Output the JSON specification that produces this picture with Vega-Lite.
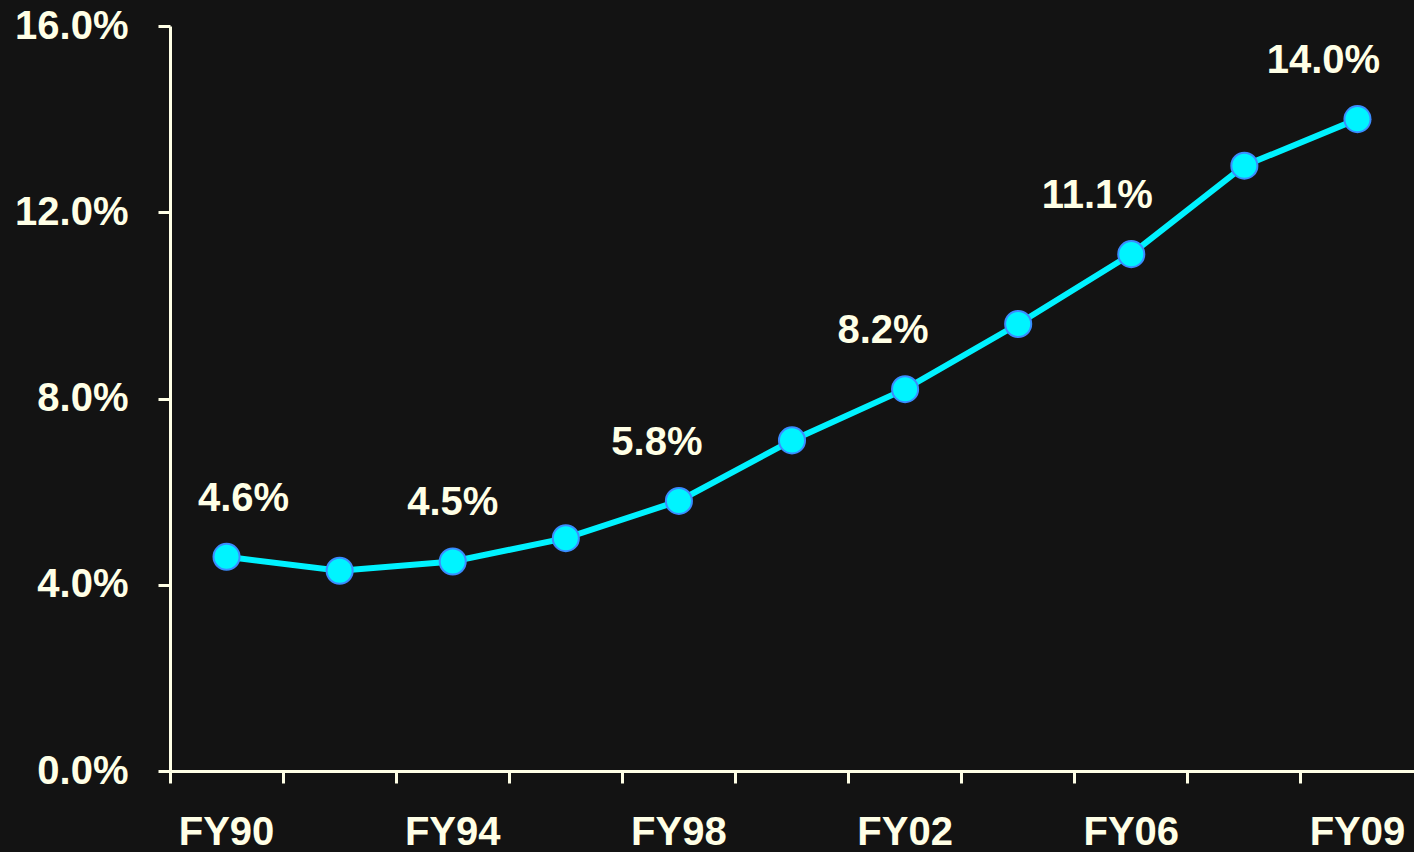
{
  "$schema": "https://vega.github.io/schema/vega-lite/v6.json",
  "width": 1244,
  "height": 745,
  "autosize": {"type": "none"},
  "padding": {"left": 170, "top": 26, "right": 0, "bottom": 81},
  "background": "#131313",
  "config": {
    "view": {"stroke": null},
    "font": "Liberation Sans",
    "text": {"font": "Liberation Sans", "fontWeight": "bold", "fontSize": 40, "color": "#FFFFE6", "dy": -58}
  },
  "data": {
    "values": [
      {"fy": "FY90", "share": 0.046},
      {"fy": "FY92", "share": 0.043},
      {"fy": "FY94", "share": 0.045},
      {"fy": "FY96", "share": 0.050},
      {"fy": "FY98", "share": 0.058},
      {"fy": "FY00", "share": 0.071},
      {"fy": "FY02", "share": 0.082},
      {"fy": "FY04", "share": 0.096},
      {"fy": "FY06", "share": 0.111},
      {"fy": "FY08", "share": 0.130},
      {"fy": "FY09", "share": 0.140}
    ]
  },
  "encoding": {
    "x": {
      "field": "fy",
      "type": "nominal",
      "sort": null,
      "scale": {"type": "band", "paddingInner": 0, "paddingOuter": 0},
      "axis": {
        "title": null,
        "labelAngle": 0,
        "domainColor": "#FFFFE6",
        "domainWidth": 3,
        "tickColor": "#FFFFE6",
        "tickWidth": 3,
        "tickSize": 12,
        "bandPosition": 0,
        "labelColor": "#FFFFE6",
        "labelFont": "Liberation Sans",
        "labelFontWeight": "bold",
        "labelFontSize": 40,
        "labelPadding": 29,
        "labelExpr": "indexof(['FY90','FY94','FY98','FY02','FY06','FY09'], datum.value) >= 0 ? datum.value : ''"
      }
    },
    "y": {
      "field": "share",
      "type": "quantitative",
      "scale": {"domain": [0, 0.16], "nice": false},
      "axis": {
        "title": null,
        "values": [0, 0.04, 0.08, 0.12, 0.16],
        "format": ".1%",
        "grid": false,
        "domainColor": "#FFFFE6",
        "domainWidth": 3,
        "tickColor": "#FFFFE6",
        "tickWidth": 3,
        "tickSize": 12,
        "labelColor": "#FFFFE6",
        "labelFont": "Liberation Sans",
        "labelFontWeight": "bold",
        "labelFontSize": 40,
        "labelPadding": 30
      }
    }
  },
  "layer": [
    {
      "mark": {"type": "line", "color": "#00F2FF", "strokeWidth": 6}
    },
    {
      "mark": {"type": "point", "shape": "circle", "filled": true, "size": 680, "fill": "#00F4FF", "stroke": "#3A8CFF", "strokeWidth": 2, "opacity": 1}
    },
    {
      "transform": [{"filter": "datum.fy === 'FY90'"}],
      "mark": {"type": "text", "dx": 17},
      "encoding": {"text": {"field": "share", "type": "quantitative", "format": ".1%"}}
    },
    {
      "transform": [{"filter": "datum.fy === 'FY94'"}],
      "mark": {"type": "text", "dx": 0},
      "encoding": {"text": {"field": "share", "type": "quantitative", "format": ".1%"}}
    },
    {
      "transform": [{"filter": "datum.fy === 'FY98' || datum.fy === 'FY02'"}],
      "mark": {"type": "text", "dx": -22},
      "encoding": {"text": {"field": "share", "type": "quantitative", "format": ".1%"}}
    },
    {
      "transform": [{"filter": "datum.fy === 'FY06' || datum.fy === 'FY09'"}],
      "mark": {"type": "text", "dx": -34},
      "encoding": {"text": {"field": "share", "type": "quantitative", "format": ".1%"}}
    }
  ]
}
